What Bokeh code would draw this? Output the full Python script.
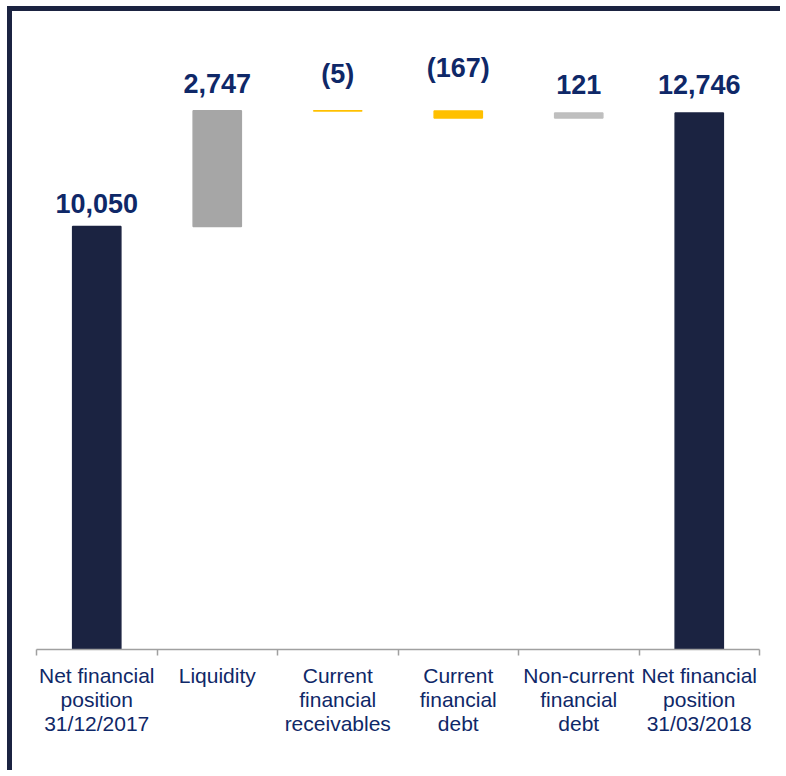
import numpy as np
from bokeh.plotting import figure
from bokeh.models import ColumnDataSource, Range1d, LinearAxis, FixedTicker
from bokeh.core.properties import value
from bokeh.embed import file_html
from bokeh.resources import INLINE

# ---- data ----
categories = [
    "Net financial\nposition\n31/12/2017",
    "Liquidity",
    "Current\nfinancial\nreceivables",
    "Current\nfinancial\ndebt",
    "Non-current\nfinancial\ndebt",
    "Net financial\nposition\n31/03/2018",
]
values = [10050, 2747, -5, -167, 121, 12746]
kinds = ["total", "delta", "delta", "delta", "delta", "total"]
value_labels = ["10,050", "2,747", "(5)", "(167)", "121", "12,746"]

# ---- styles ----
bar_colors = ["#1b2341", "#a6a6a6", "#ffc000", "#ffc000", "#bfbfbf", "#1b2341"]
label_offsets = [-23, -27, -37, -43, -28, -28]
NAVY_TEXT = "#0f2868"
FONT = "Liberation Sans"

# waterfall geometry computed from values
bottoms, tops = [], []
running = 0.0
for v, k in zip(values, kinds):
    if k == "total":
        b, t = 0.0, float(v)
        running = float(v)
    else:
        start = running
        running = running + v
        b, t = min(start, running), max(start, running)
    bottoms.append(b)
    tops.append(t)

xs = np.arange(len(categories)) + 0.5

src = ColumnDataSource(dict(
    x=xs, bottom=bottoms, top=tops, color=bar_colors,
    label=value_labels, offset=label_offsets,
))

W, H = 773, 764
p = figure(
    width=W, height=H, output_backend="svg", toolbar_location=None,
    x_range=Range1d(0, len(categories)), y_range=Range1d(0, 15154),
    x_axis_location=None, y_axis_location=None,
    min_border_left=24, min_border_right=26, min_border_top=0, min_border_bottom=126,
)
p.styles = {
    "margin-left": "7px", "margin-top": "6px",
    "border-left": "5px solid #1b2341", "border-top": "5px solid #1b2341",
}
p.outline_line_color = None
p.xgrid.visible = False
p.ygrid.visible = False
p.background_fill_color = "white"
p.border_fill_color = "white"

p.vbar(x="x", bottom="bottom", top="top", width=0.40, source=src,
       fill_color="color", line_color="color", line_width=1.5)

p.text(x="x", y="top", text="label", y_offset="offset", source=src,
       text_align="center", text_baseline="alphabetic",
       text_font=value(FONT), text_font_style="bold", text_font_size="27px",
       text_color=NAVY_TEXT)

ticker = FixedTicker(ticks=list(xs), minor_ticks=list(range(len(categories) + 1)))
xaxis = LinearAxis(ticker=ticker)
xaxis.major_label_overrides = {float(x): c for x, c in zip(xs, categories)}
xaxis.major_tick_line_color = None
xaxis.minor_tick_in = 0
xaxis.minor_tick_out = 6
xaxis.minor_tick_line_color = "#a0a0a0"
xaxis.minor_tick_line_width = 1.5
xaxis.axis_line_color = "#a0a0a0"
xaxis.axis_line_width = 1.5
xaxis.major_label_text_font = FONT
xaxis.major_label_text_font_size = "21px"
xaxis.major_label_text_color = NAVY_TEXT
xaxis.major_label_text_line_height = 1.05
xaxis.major_label_standoff = 8
p.add_layout(xaxis, "below")

open("out.html", "w").write(file_html(p, INLINE))
